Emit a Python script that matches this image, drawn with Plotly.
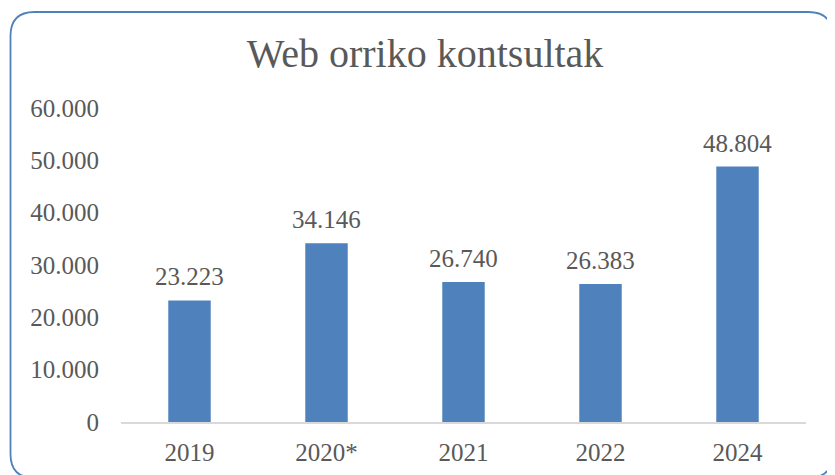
import plotly.graph_objects as go

categories = ["2019", "2020*", "2021", "2022", "2024"]
values = [23223, 34146, 26740, 26383, 48804]
y_ticks = [0, 10000, 20000, 30000, 40000, 50000, 60000]
title_text = "Web orriko kontsultak"

FONT = "Liberation Serif"
TXT = "#595959"
BAR = "#4F81BD"

def fmt(v):
    return f"{v:,}".replace(",", ".")

W, H = 835, 475
OFF = 8  # page body margin
# plot area in page pixels
PL, PR, PT, PB = 121, 806, 108, 422
ml, mt = PL - OFF, PT - OFF
mr, mb = (OFF + W) - PR, (OFF + H) - PB
pw, ph = PR - PL, PB - PT

fig = go.Figure()
fig.add_trace(go.Bar(x=categories, y=values, marker=dict(color=BAR, line=dict(width=0)),
                     width=0.31))

# value labels (category positions by index)
for i, v in enumerate(values):
    fig.add_annotation(x=i, y=v, xref="x", yref="y", text=fmt(v), showarrow=False,
                       yanchor="bottom", yshift=8,
                       font=dict(family=FONT, size=25, color=TXT))

# rounded frame, given in page pixels, converted to paper coordinates
def px2x(p):
    return (p - PL) / pw

def py2y(p):
    return (PB - p) / ph

L, R, T, B, r = 10.5, 832.5, 12, 478, 24
path = (
    f"M {px2x(L)},{py2y(T + r)} "
    f"Q {px2x(L)},{py2y(T)} {px2x(L + r)},{py2y(T)} "
    f"L {px2x(R - r)},{py2y(T)} "
    f"Q {px2x(R)},{py2y(T)} {px2x(R)},{py2y(T + r)} "
    f"L {px2x(R)},{py2y(B - r)} "
    f"Q {px2x(R)},{py2y(B)} {px2x(R - r)},{py2y(B)} "
    f"L {px2x(L + r)},{py2y(B)} "
    f"Q {px2x(L)},{py2y(B)} {px2x(L)},{py2y(B - r)} Z"
)
fig.add_shape(type="path", path=path, xref="paper", yref="paper",
              line=dict(color="#4F81BD", width=1.8), layer="above")

fig.update_layout(
    width=W, height=H,
    margin=dict(l=ml, r=mr, t=mt, b=mb, pad=0),
    paper_bgcolor="white", plot_bgcolor="white",
    showlegend=False,
    title=dict(text=title_text, x=(425 - OFF) / W, xref="container", xanchor="center",
               y=1 - (53 - OFF) / H, yref="container", yanchor="middle",
               font=dict(family=FONT, size=40, color=TXT)),
    font=dict(family=FONT, size=25, color=TXT),
    xaxis=dict(type="category", range=[-0.5, len(categories) - 0.5],
               showgrid=False, showline=True, linecolor="#D9D9D9",
               linewidth=1.5, ticks="", tickfont=dict(family=FONT, size=25, color=TXT),
               ticklabelstandoff=7, fixedrange=True),
    yaxis=dict(range=[0, 60000], tickvals=y_ticks, ticktext=[fmt(t) for t in y_ticks],
               showgrid=False, zeroline=False, showline=False, ticks="",
               tickfont=dict(family=FONT, size=25, color=TXT),
               ticklabelstandoff=21, fixedrange=True),
)

fig.write_html("out.html")
